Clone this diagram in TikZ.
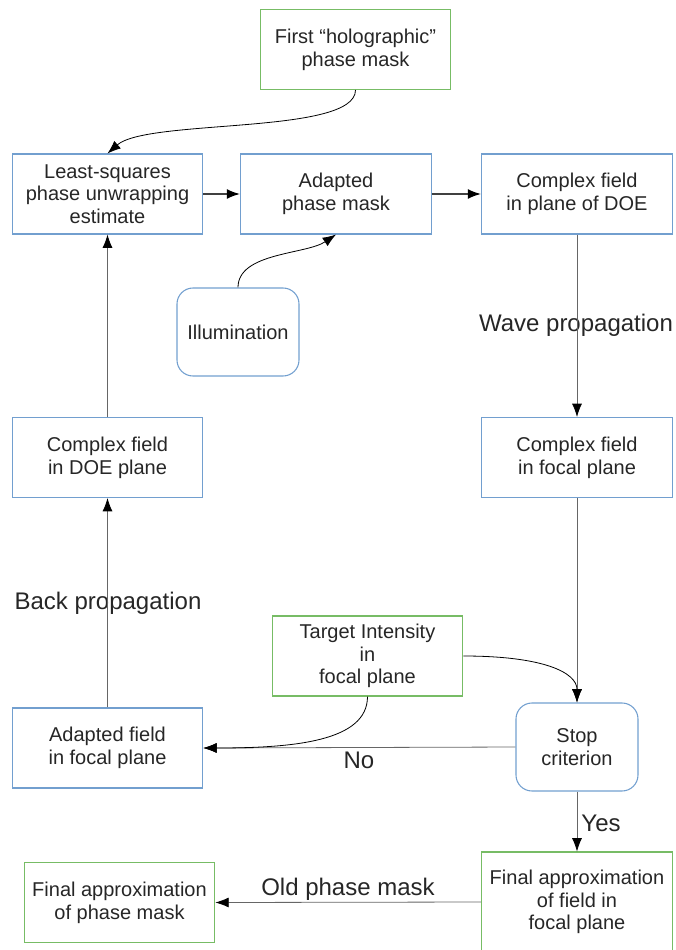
\documentclass[tikz,border=0pt]{standalone}
\usepackage{fontspec}
\setmainfont{Liberation Sans}
\usepackage{tikz}
\usetikzlibrary{shapes,arrows.meta,positioning,calc}

\definecolor{boxblue}{HTML}{729FCF}
\definecolor{boxgreen}{HTML}{77BC65}
\definecolor{linegray}{HTML}{666666}

\begin{document}
\begin{tikzpicture}[x=0.75pt, y=-0.75pt,
    box/.style={line width=0.8pt, minimum width=143pt, minimum height=60pt, align=center, inner sep=2pt, font=\fontsize{15}{17}\selectfont, text=black!85},
    bluebox/.style={box, draw=boxblue},
    greenbox/.style={box, draw=boxgreen},
    roundbox/.style={box, draw=boxblue, rounded corners=12pt, minimum width=91.5pt, minimum height=66pt},
    flow/.style={draw=linegray, line width=0.6pt, -{Latex[length=10pt,width=7.5pt,color=black]}},
    bigflow/.style={flow, line width=1.4pt, draw=black!75},
    curve/.style={flow, draw=black},
    lbl/.style={font=\fontsize{18}{20}\selectfont, text=black!85}]
    \useasboundingbox (0,0) rectangle (675,950);

    % Start
    \node[greenbox] (first) at (355.5,49.5) {First “holographic”\\phase mask};

    % Top row
    \node[bluebox] (ls) at (107.5,194) {Least-squares\\phase unwrapping\\estimate};
    \node[bluebox] (mask) at (336,194) {Adapted\\phase mask};
    \node[bluebox] (doe) at (577,194) {Complex field\\in plane of DOE};
    \node[roundbox] (illum) at (238,332) {Illumination};

    % Middle row
    \node[bluebox] (doeback) at (107.5,457.5) {Complex field\\in DOE plane};
    \node[bluebox] (focal) at (577,457.5) {Complex field\\in focal plane};

    % Bottom part
    \node[greenbox] (target) at (367.5,656) {Target Intensity\\in\\focal plane};
    \node[bluebox] (adfield) at (107.5,748) {Adapted field\\in focal plane};
    \node[roundbox] (stop) at (577,747) {Stop\\criterion};
    \node[greenbox, minimum height=75pt] (finfield) at (577,902) {Final approximation\\of field in\\focal plane};
    \node[greenbox] (finmask) at (119.5,902.5) {Final approximation\\of phase mask};

    % Labels
    \node[lbl] (wave) at (576,325) {Wave propagation};
    \node[lbl] (back) at (108,603) {Back propagation};
    \node[lbl] (no) at (359,760) {No};
    \node[lbl] (yes) at (601,823) {Yes};
    \node[lbl] (old) at (348,889) {Old phase mask};

    % Arrows
    \draw[curve] (first.south) .. controls +(0,45) and +(40,-35) .. (ls.north);
    \draw[bigflow] (ls.east) -- (mask.west);
    \draw[bigflow] (mask.east) -- (doe.west);
    \draw[curve] (illum.north) .. controls +(0,-35) and +(-30,20) .. (mask.south);
    \draw[flow] (doe.south) -- (focal.north);
    \draw[flow] (focal.south) -- (stop.north);
    \draw[curve] (target.east) .. controls +(80,0) and +(0,-30) .. (stop.north);
    \draw[flow] (stop.west) -- (adfield.east);
    \draw[curve] (target.south) .. controls +(0,45) and +(90,0) .. (adfield.east);
    \draw[flow] (adfield.north) -- (doeback.south);
    \draw[flow] (doeback.north) -- (ls.south);
    \draw[flow] (stop.south) -- (finfield.north);
    \draw[flow] (finfield.west) -- (finmask.east);
\end{tikzpicture}
\end{document}
